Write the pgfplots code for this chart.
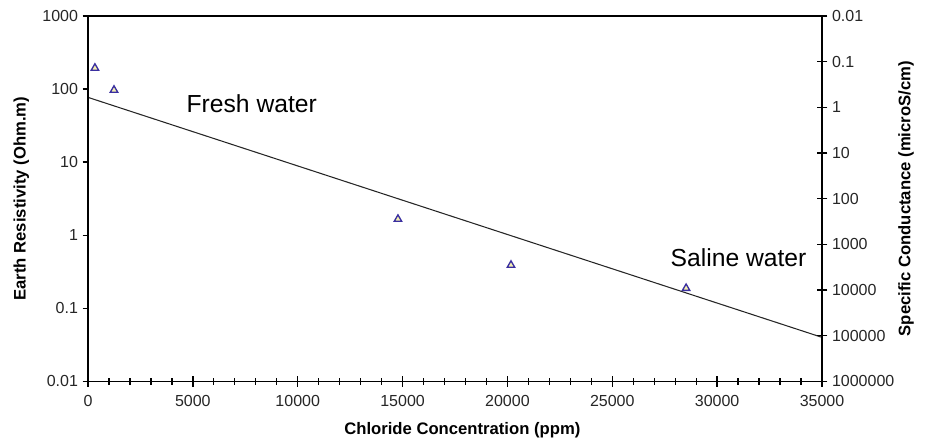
\documentclass[border=0pt]{standalone}
\usepackage{pgfplots}
\pgfplotsset{compat=1.18}
\usepackage{fontspec}
\setmainfont{Liberation Sans}
\definecolor{mk}{HTML}{3A2FA0}
\definecolor{mkf}{HTML}{F4F0B0}
\pgfplotsset{
  mystyle/.style={
    scale only axis, width=550.5pt, height=274pt,
    xmin=0, xmax=35000,
    axis line style={line width=1.1pt},
    every tick/.style={line width=1pt, black},
    /pgf/number format/assume math mode=true,
    tick label style={font=\fontsize{12}{14}\selectfont, text=black!85},
    scaled x ticks=false,
  }
}
\begin{document}
\begin{tikzpicture}
\begin{axis}[mystyle,
  ymode=log, ymin=0.01, ymax=1000,
  xtick=\empty,
  ytick={0.01,0.1,1,10,100,1000},
  yticklabels={0.01,0.1,1,10,100,1000},
  ytick pos=left, tick align=outside, major tick length=4pt,
  yminorticks=false,
  ylabel={Earth Resistivity (Ohm.m)},
  ylabel style={font=\bfseries\fontsize{12.5}{14}\selectfont,
    at={(axis description cs:0,0.5)}, anchor=center, rotate=0, yshift=50pt},
]
\addplot[black!85, line width=0.8pt] coordinates {(0,77) (35000,0.040)};
\addplot[only marks, mark=triangle*, mark size=3.2pt, mark options={draw=mk, fill=mkf, line width=1pt}]
  coordinates {(330,194) (1240,97) (14780,1.66) (20170,0.39) (28520,0.188)};
\node[font=\fontsize{18.5}{21}\selectfont, anchor=west] at (axis cs:4480,64) {Fresh water};
\node[font=\fontsize{18.5}{21}\selectfont, anchor=west] at (axis cs:27560,0.5) {Saline water};
\end{axis}
\begin{axis}[mystyle,
  ymode=log, ymin=0.01, ymax=1000000, y dir=reverse,
  xtick=\empty,
  ytick pos=right, yticklabel pos=right,
  ytick={0.01,0.1,1,10,100,1000,10000,100000,1000000},
  yticklabels={0.01,0.1,1,10,100,1000,10000,100000,1000000},
  yminorticks=false, tick align=center, major tick length=8pt,
  ylabel={Specific Conductance (microS/cm)},
  ylabel near ticks,
  ylabel style={font=\bfseries\fontsize{12.5}{14}\selectfont,
    at={(axis description cs:1,0.5)}, anchor=center, yshift=-63pt},
]
\end{axis}
\begin{axis}[mystyle,
  ymin=0, ymax=1,
  ytick=\empty,
  xtick pos=bottom,
  xtick={0,5000,10000,15000,20000,25000,30000,35000},
  xticklabels={0,5000,10000,15000,20000,25000,30000,35000},
  xticklabel style={yshift=-3pt},
  minor x tick num=4,
  tick align=center, major tick length=8pt, minor tick length=5pt,
  xlabel={Chloride Concentration (ppm)},
  xlabel style={font=\bfseries\fontsize{12.5}{14}\selectfont,
    at={(axis description cs:0.51,0)}, anchor=center, yshift=-37pt},
]
\end{axis}
\pgfresetboundingbox
\path[use as bounding box] (-66pt,-46.5pt) rectangle (636pt,286pt);
\end{tikzpicture}
\end{document}
